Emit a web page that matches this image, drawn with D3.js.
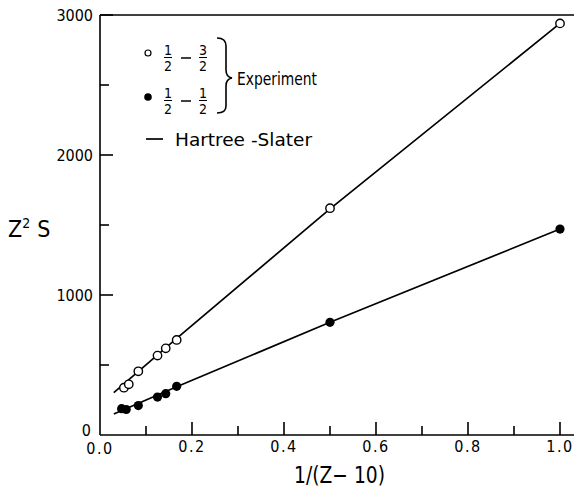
<!DOCTYPE html>
<html><head><meta charset="utf-8">
<script src="https://cdn.jsdelivr.net/npm/d3@7"></script>
<style>
body{margin:0;background:#fff;}
svg text{font-family:"DejaVu Sans Condensed","Liberation Sans Narrow","DejaVu Sans",sans-serif;fill:#000;}
</style></head><body>
<svg id="c" width="574" height="489"></svg>
<script>
// ---- data ----
const openX = [0.052, 0.0625, 0.0833, 0.125, 0.1429, 0.1667, 0.5, 1.0];
const openY = [338, 362, 455, 567, 619, 679, 1620, 2940];
const filledX = [0.047, 0.057, 0.0833, 0.125, 0.1429, 0.1667, 0.5, 1.0];
const filledY = [188, 182, 210, 271, 295, 348, 805, 1471];
const theoryOpenX = [0.03, 0.1667, 0.5, 1.0];
const theoryOpenY = [302, 690, 1615, 2940];
const theoryFilledX = [0.03, 0.1667, 0.5, 1.0];
const theoryFilledY = [150, 345, 805, 1471];
const xMajorTicks = [0, 0.2, 0.4, 0.6, 0.8, 1.0];
const xMinorTicks = [0.1, 0.3, 0.5, 0.7, 0.9];
const yMajorTicks = [0, 1000, 2000, 3000];
const yMinorTicks = [500, 1500, 2500];

const W = 574, H = 489;
const svg = d3.select("#c");
const x = d3.scaleLinear().domain([0, 1]).range([100, 560]);
const y = d3.scaleLinear().domain([0, 3000]).range([435, 15]);

// frame lines
svg.append("line").attr("x1", x(0)).attr("x2", W).attr("y1", y(0)).attr("y2", y(0))
  .attr("stroke", "#000").attr("stroke-width", 1.6);
svg.append("line").attr("x1", x(0)).attr("x2", W).attr("y1", y(3000)).attr("y2", y(3000))
  .attr("stroke", "#000").attr("stroke-width", 1.6);
svg.append("line").attr("x1", x(0)).attr("x2", x(0)).attr("y1", y(0)).attr("y2", y(3000))
  .attr("stroke", "#000").attr("stroke-width", 1.6);

// ticks (inward, drawn from the scale)
const tk = svg.append("g").attr("stroke", "#000").attr("stroke-width", 1.6);
tk.selectAll(".xM").data(xMajorTicks.filter(d => d > 0)).join("line").attr("class", "xM")
  .attr("x1", d => x(d)).attr("x2", d => x(d)).attr("y1", y(0)).attr("y2", y(0) - 13);
tk.selectAll(".xm").data(xMinorTicks).join("line").attr("class", "xm")
  .attr("x1", d => x(d)).attr("x2", d => x(d)).attr("y1", y(0)).attr("y2", y(0) - 9);
tk.selectAll(".yM").data(yMajorTicks.filter(d => d > 0)).join("line").attr("class", "yM")
  .attr("y1", d => y(d)).attr("y2", d => y(d)).attr("x1", x(0)).attr("x2", x(0) + 13);
tk.selectAll(".ym").data(yMinorTicks).join("line").attr("class", "ym")
  .attr("y1", d => y(d)).attr("y2", d => y(d)).attr("x1", x(0)).attr("x2", x(0) + 9);

// tick labels
const fx = d3.format(".1f");
svg.append("g").selectAll("text").data(xMajorTicks).join("text")
  .attr("x", d => x(d)).attr("y", d => d === 0 ? y(0) + 19 : y(0) + 17)
  .attr("text-anchor", "middle").attr("font-size", 16).attr("letter-spacing", "1.5px")
  .text(d => fx(d));
svg.append("g").selectAll("text").data(yMajorTicks).join("text")
  .attr("x", d => d === 0 ? x(0) - 9 : x(0) - 7).attr("y", d => d === 0 ? y(d) + 1 : y(d) + 6)
  .attr("text-anchor", "end").attr("font-size", 16)
  .text(d => String(d));

// theory lines
const line = d3.line().x(d => x(d[0])).y(d => y(d[1]));
svg.append("path").datum(theoryOpenX.map((v, i) => [v, theoryOpenY[i]]))
  .attr("d", line).attr("fill", "none").attr("stroke", "#000").attr("stroke-width", 1.7);
svg.append("path").datum(theoryFilledX.map((v, i) => [v, theoryFilledY[i]]))
  .attr("d", line).attr("fill", "none").attr("stroke", "#000").attr("stroke-width", 1.7);

// points
svg.append("g").selectAll("circle").data(openX.map((v, i) => [v, openY[i]])).join("circle")
  .attr("cx", d => x(d[0])).attr("cy", d => y(d[1])).attr("r", 4.2)
  .attr("fill", "#fff").attr("stroke", "#000").attr("stroke-width", 1.4);
svg.append("g").selectAll("circle").data(filledX.map((v, i) => [v, filledY[i]])).join("circle")
  .attr("cx", d => x(d[0])).attr("cy", d => y(d[1])).attr("r", 4.6).attr("fill", "#000");

// axis titles
const yt = svg.append("text").attr("x", 8).attr("y", 237).attr("font-size", 23);
yt.append("tspan").text("Z");
yt.append("tspan").attr("dy", -9).attr("font-size", 14).text("2");
yt.append("tspan").attr("dy", 9).attr("dx", 7).text("S");
svg.append("text").attr("x", 294).attr("y", 483).attr("font-size", 23)
  .attr("textLength", 91).attr("lengthAdjust", "spacingAndGlyphs").text("1/(Z\u2212 10)");

// legend
const lg = svg.append("g");
lg.append("circle").attr("cx", 148).attr("cy", 53).attr("r", 3).attr("fill", "#fff")
  .attr("stroke", "#000").attr("stroke-width", 1.2);
lg.append("circle").attr("cx", 148).attr("cy", 97).attr("r", 3.8).attr("fill", "#000");
function frac(cx, cyBar, num, den) {
  lg.append("text").attr("x", cx).attr("y", cyBar - 2.5).attr("text-anchor", "middle").attr("font-size", 14).text(num);
  lg.append("line").attr("x1", cx - 4).attr("x2", cx + 4).attr("y1", cyBar).attr("y2", cyBar)
    .attr("stroke", "#000").attr("stroke-width", 1);
  lg.append("text").attr("x", cx).attr("y", cyBar + 13.5).attr("text-anchor", "middle").attr("font-size", 14).text(den);
}
frac(168, 57.5, "1", "2");
frac(203, 57.5, "3", "2");
frac(168, 100.5, "1", "2");
frac(203, 100.5, "1", "2");
lg.append("line").attr("x1", 181).attr("x2", 191).attr("y1", 58).attr("y2", 58).attr("stroke", "#000").attr("stroke-width", 1.5);
lg.append("line").attr("x1", 181).attr("x2", 191).attr("y1", 101).attr("y2", 101).attr("stroke", "#000").attr("stroke-width", 1.5);
lg.append("path").attr("d", "M217,38 Q226,38 226,46 L226,70 Q226,77 232,78 Q226,79 226,86 L226,106 Q226,113 217,113")
  .attr("fill", "none").attr("stroke", "#000").attr("stroke-width", 1.6);
lg.append("text").attr("x", 237).attr("y", 85).attr("font-size", 18)
  .attr("textLength", 80).attr("lengthAdjust", "spacingAndGlyphs").text("Experiment");
lg.append("line").attr("x1", 146).attr("x2", 163).attr("y1", 139).attr("y2", 139).attr("stroke", "#000").attr("stroke-width", 1.7);
lg.append("text").attr("x", 175).attr("y", 146).attr("font-size", 18)
  .attr("textLength", 137).attr("lengthAdjust", "spacingAndGlyphs").text("Hartree -Slater");
</script>
</body></html>
